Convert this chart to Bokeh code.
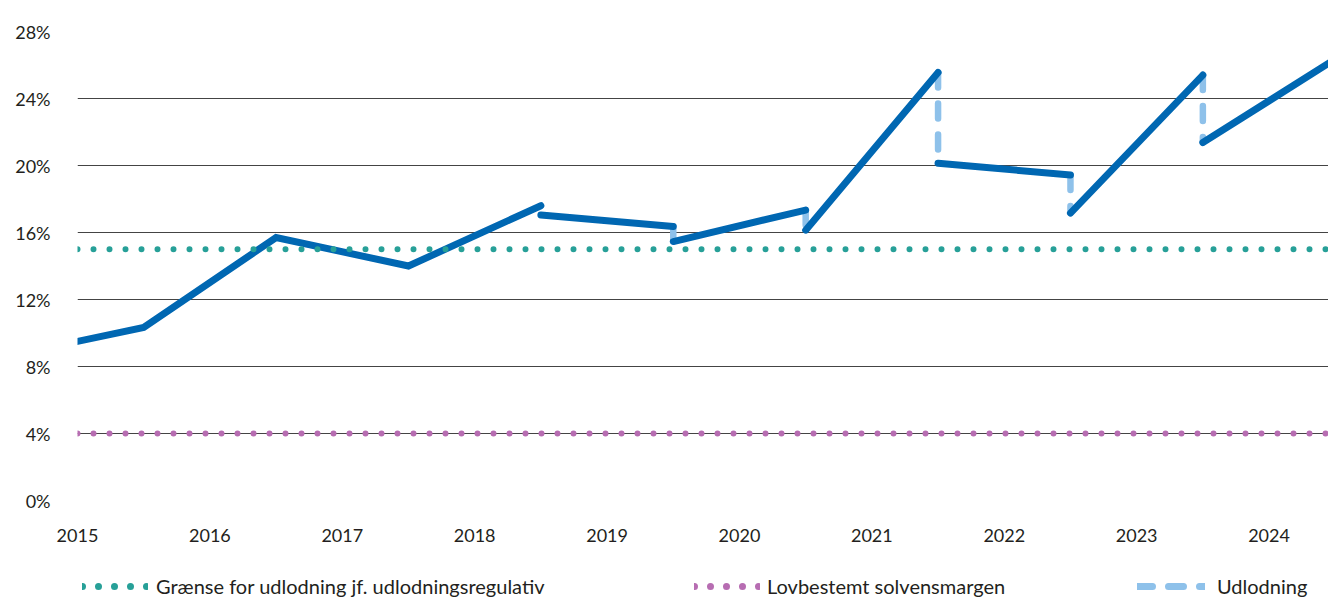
import numpy as np
from bokeh.plotting import figure
from bokeh.layouts import column
from bokeh.models import (Range1d, FixedTicker, PrintfTickFormatter, Legend,
                          LegendItem, ColumnDataSource)
from bokeh.embed import file_html
from bokeh.resources import INLINE

# ---------------- data ----------------
year_ticks = [2015, 2016, 2017, 2018, 2019, 2020, 2021, 2022, 2023, 2024]
y_ticks = [0, 4, 8, 12, 16, 20, 24, 28]

# measurement points (mid-year) and solvency ratio before / after udlodning (%)
points_x = [2015.0, 2015.5, 2016.5, 2017.5, 2018.5, 2019.5, 2020.5, 2021.5, 2022.5, 2023.5, 2024.5]
ratio_before = [9.5, 10.33, 15.7, 14.0, 17.6, 16.36, 17.34, 25.55, 19.43, 25.4, 26.35]
ratio_after = [9.5, 10.33, 15.7, 14.0, 17.05, 15.46, 16.14, 20.14, 17.16, 21.37, 26.35]

# udlodning drops shown with dashed line
udlodning_x = [2019.5, 2020.5, 2021.5, 2022.5, 2023.5]

# horizontal reference levels (%)
limit_x = [2015.0, 2024.5]
graense_y = [15.0, 15.0]
solvens_y = [4.0, 4.0]

legend_labels = ["Grænse for udlodning jf. udlodningsregulativ",
                 "Lovbestemt solvensmargen", "Udlodning"]

# ---------------- build ----------------
FONT = "Lato"
TXT = "#231f20"
BLUE = "#0067b2"
LIGHT = "#8ec1ea"
TEAL = "#27a098"
PURPLE = "#b76db2"

main_x, main_y = [points_x[0]], [ratio_after[0]]
for i in range(1, len(points_x)):
    main_x.append(points_x[i]); main_y.append(ratio_before[i])
    if ratio_after[i] != ratio_before[i]:
        main_x.append(np.nan); main_y.append(np.nan)
        main_x.append(points_x[i]); main_y.append(ratio_after[i])

ud_top = [ratio_before[points_x.index(x)] for x in udlodning_x]
ud_bot = [ratio_after[points_x.index(x)] for x in udlodning_x]

W = 1328
H_MAIN = 558
H_LEG = 40

p = figure(width=W, height=H_MAIN, output_backend="svg", toolbar_location=None,
           x_range=Range1d(2015.0, 2024.449), y_range=Range1d(0, 28),
           min_border_left=77, min_border_right=0, min_border_top=31,
           min_border_bottom=58)
p.outline_line_color = None
p.background_fill_color = "white"
p.border_fill_color = "white"

p.xgrid.grid_line_color = None
p.ygrid.grid_line_color = "#444444"
p.ygrid.grid_line_width = 1

p.yaxis.ticker = FixedTicker(ticks=y_ticks)
p.yaxis.formatter = PrintfTickFormatter(format="%d%%")
p.xaxis.ticker = FixedTicker(ticks=year_ticks)
p.xaxis.formatter = PrintfTickFormatter(format="%d")
for ax in (p.xaxis[0], p.yaxis[0]):
    ax.axis_line_color = None
    ax.major_tick_line_color = None
    ax.minor_tick_line_color = None
    ax.major_tick_out = 0
    ax.major_tick_in = 0
    ax.major_label_text_font = FONT
    ax.major_label_text_font_size = "18px"
    ax.major_label_text_color = TXT
p.yaxis.major_label_standoff = 27
p.xaxis.major_label_standoff = 28

p.segment(x0=udlodning_x, y0=ud_top, x1=udlodning_x, y1=ud_bot,
          line_color=LIGHT, line_width=6.5, line_dash="15 16", line_cap="round")
p.line(main_x, main_y, line_color=BLUE, line_width=7, line_cap="round",
       line_join="miter")
p.line(limit_x, graense_y, line_color=TEAL, line_width=6, line_dash="0 16",
       line_cap="round")
p.line(limit_x, solvens_y, line_color=PURPLE, line_width=6, line_dash="0 16",
       line_cap="round")

# ---------------- legend strip ----------------
lg = figure(width=W, height=H_LEG, output_backend="svg", toolbar_location=None,
            x_range=Range1d(0, W), y_range=Range1d(0, H_LEG),
            min_border_left=0, min_border_right=0, min_border_top=0,
            min_border_bottom=0, x_axis_type=None, y_axis_type=None)
lg.outline_line_color = None
lg.xgrid.visible = False
lg.ygrid.visible = False

# legend-only renderers (no visible data, only their styles feed the legend)
proxy = ColumnDataSource(dict(x=[np.nan, np.nan], y=[np.nan, np.nan]))
px_gr = lg.line("x", "y", source=proxy, line_color=TEAL, line_width=7,
                line_dash="0 16", line_cap="round")
px_so = lg.line("x", "y", source=proxy, line_color=PURPLE, line_width=7,
                line_dash="0 16", line_cap="round")
px_ud = lg.line("x", "y", source=proxy, line_color=LIGHT, line_width=7,
                line_dash="15 16", line_cap="round")

FRAME_OFF = 78  # column aligns this strip's frame with the chart frame


def add_legend(label, renderer, x_page, gw, standoff):
    leg = Legend(items=[LegendItem(label=label, renderers=[renderer])],
                 location=(x_page - FRAME_OFF, 0), orientation="horizontal",
                 glyph_width=gw, glyph_height=20, label_height=20,
                 label_standoff=standoff, padding=0, margin=0, spacing=0,
                 border_line_color=None, background_fill_alpha=0,
                 label_text_font=FONT, label_text_font_size="20px",
                 label_text_color=TXT)
    lg.add_layout(leg, "center")


add_legend(legend_labels[0], px_gr, 83, 66, 8)
add_legend(legend_labels[1], px_so, 695, 66, 7)
add_legend(legend_labels[2], px_ud, 1138, 68, 12)

layout = column(p, lg, spacing=0)
open("out.html", "w").write(file_html(layout, INLINE))
